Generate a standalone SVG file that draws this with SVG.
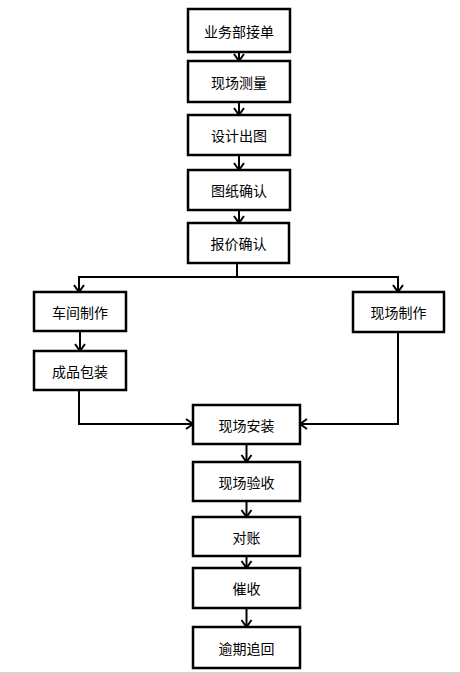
<svg xmlns="http://www.w3.org/2000/svg" width="460" height="674" viewBox="0 0 460 674">
<style>
.box{fill:#fff;stroke:#000;stroke-width:2.5}
.lbl{font-family:"Noto Sans CJK SC","Noto Sans CJK TC",sans-serif;font-size:14px;fill:#000;text-anchor:middle;dominant-baseline:central}
.ln{fill:none;stroke:#000;stroke-width:2}
</style>
<defs>
<marker id="ah" markerUnits="userSpaceOnUse" markerWidth="14" markerHeight="14" viewBox="-1 -7 10 14" refX="7" refY="0" orient="auto">
<path d="M0,-5 L7,0 L0,5" fill="none" stroke="#000" stroke-width="2"/>
</marker>
</defs>
<rect width="460" height="674" fill="#fff"/>
<rect x="0" y="672" width="460" height="2" fill="#d6d3ce"/>
<g id="connectors">
<path class="ln" d="M239,52 V61" marker-end="url(#ah)"/>
<path class="ln" d="M239,102 V115" marker-end="url(#ah)"/>
<path class="ln" d="M239,155 V170" marker-end="url(#ah)"/>
<path class="ln" d="M239,210 V223" marker-end="url(#ah)"/>
<path class="ln" d="M237,263 V277 H79 V292" marker-end="url(#ah)"/>
<path class="ln" d="M237,277 H398 V292" marker-end="url(#ah)"/>
<path class="ln" d="M80,331 V351" marker-end="url(#ah)"/>
<path class="ln" d="M79,390 V424 H193" marker-end="url(#ah)"/>
<path class="ln" d="M398,332 V424 H300" marker-end="url(#ah)"/>
<path class="ln" d="M246.5,444 V462" marker-end="url(#ah)"/>
<path class="ln" d="M246.5,501 V517" marker-end="url(#ah)"/>
<path class="ln" d="M246.5,556 V568" marker-end="url(#ah)"/>
<path class="ln" d="M246.5,608 V627" marker-end="url(#ah)"/>
</g>
<g id="n1"><rect class="box" x="188" y="9" width="102" height="43"/><text class="lbl" x="239" y="31">业务部接单</text></g>
<g id="n2"><rect class="box" x="188" y="61" width="102" height="41"/><text class="lbl" x="239" y="82">现场测量</text></g>
<g id="n3"><rect class="box" x="188" y="115" width="102" height="40"/><text class="lbl" x="239" y="135">设计出图</text></g>
<g id="n4"><rect class="box" x="188" y="170" width="102" height="40"/><text class="lbl" x="239" y="190">图纸确认</text></g>
<g id="n5"><rect class="box" x="188" y="223" width="101" height="40"/><text class="lbl" x="238.5" y="243">报价确认</text></g>
<g id="n6"><rect class="box" x="34" y="292" width="92" height="39"/><text class="lbl" x="80" y="311.5">车间制作</text></g>
<g id="n7"><rect class="box" x="34" y="351" width="92" height="39"/><text class="lbl" x="80" y="370.5">成品包装</text></g>
<g id="n8"><rect class="box" x="353" y="292" width="91" height="40"/><text class="lbl" x="398.5" y="312">现场制作</text></g>
<g id="n9"><rect class="box" x="193" y="405" width="107" height="39"/><text class="lbl" x="246.5" y="424.5">现场安装</text></g>
<g id="n10"><rect class="box" x="193" y="462" width="107" height="39"/><text class="lbl" x="246.5" y="481.5">现场验收</text></g>
<g id="n11"><rect class="box" x="193" y="517" width="107" height="39"/><text class="lbl" x="246.5" y="536.5">对账</text></g>
<g id="n12"><rect class="box" x="193" y="568" width="107" height="40"/><text class="lbl" x="246.5" y="588">催收</text></g>
<g id="n13"><rect class="box" x="193" y="627" width="107" height="41"/><text class="lbl" x="246.5" y="647.5">逾期追回</text></g>
</svg>
